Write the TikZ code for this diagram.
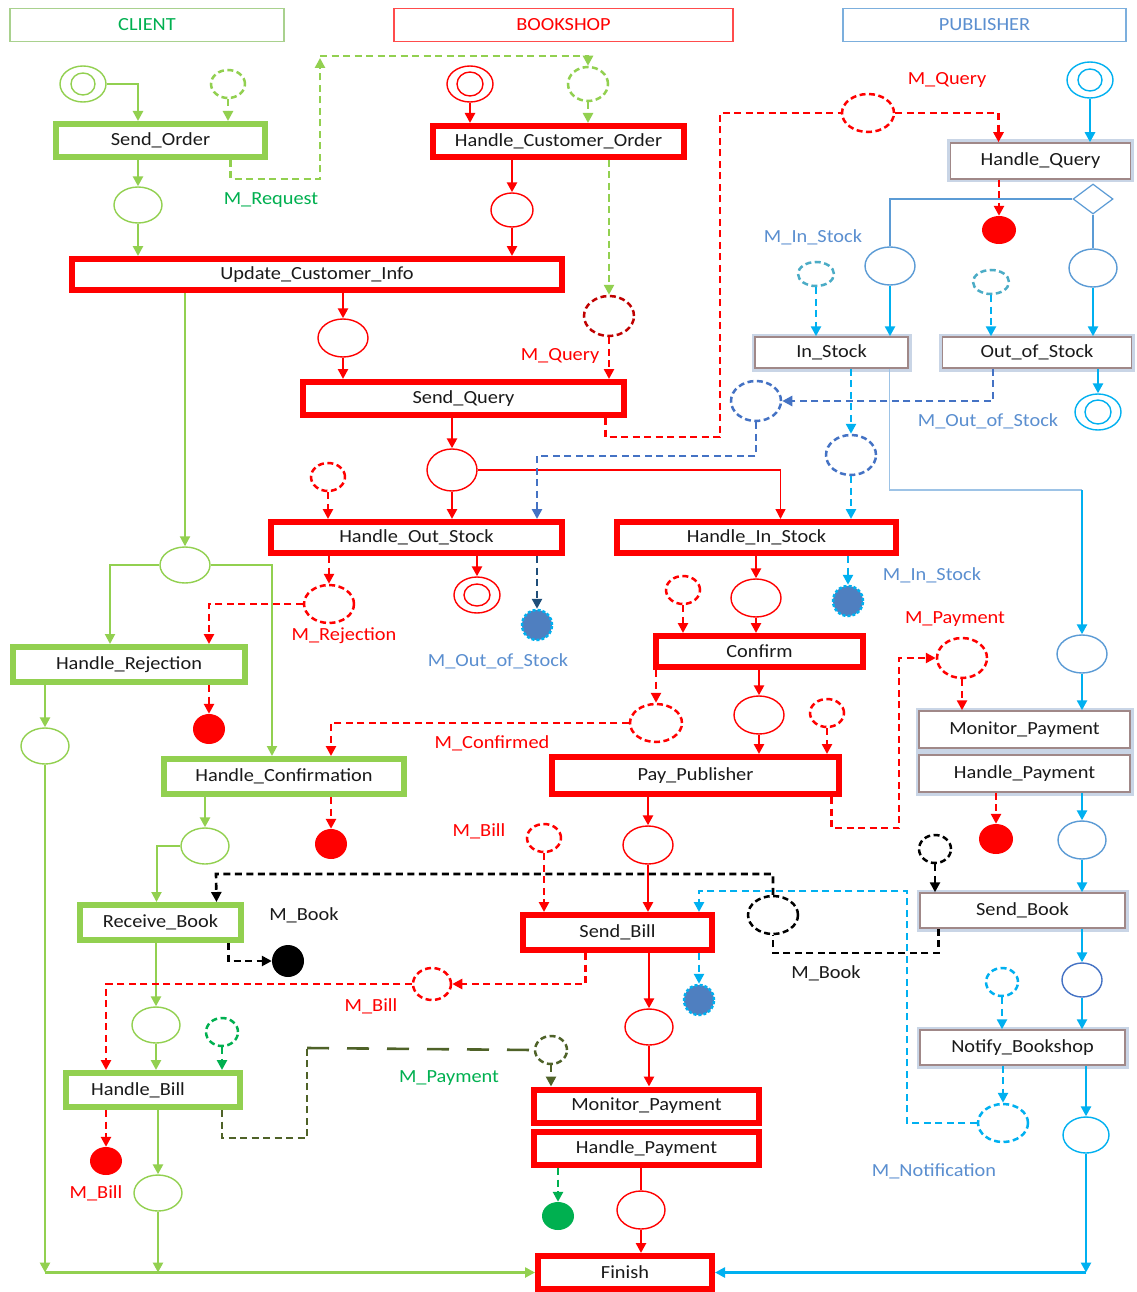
\documentclass[tikz,border=0pt]{standalone}
\usepackage{fontspec}
\setmainfont{Carlito}[FakeStretch=1.1]
\usetikzlibrary{shapes.geometric,arrows.meta,shadows}
\definecolor{cg}{HTML}{92D050}
\definecolor{cgl}{HTML}{A9D18E}
\definecolor{tg}{HTML}{00B050}
\definecolor{rd}{HTML}{FF0000}
\definecolor{drd}{HTML}{C00000}
\definecolor{cy}{HTML}{00B0F0}
\definecolor{bl}{HTML}{4472C4}
\definecolor{blt}{HTML}{5B9BD5}
\definecolor{lb}{HTML}{5B8FD0}
\definecolor{pe}{HTML}{C9D5E6}
\definecolor{pbr}{HTML}{A08888}
\definecolor{tl}{HTML}{4BACC6}
\definecolor{ol}{HTML}{4F6228}
\definecolor{gb}{HTML}{4F7FC0}
\definecolor{dbl}{HTML}{1F4E79}
\definecolor{txt}{HTML}{1A1A1A}
\tikzset{
 lbl/.style={font=\fontsize{18.5}{20}\selectfont, inner sep=0pt},
 box/.style={rectangle, fill=white, inner sep=0pt, text=txt, font=\fontsize{18.5}{20}\selectfont,
   drop shadow={shadow xshift=2pt, shadow yshift=-2pt, fill=black!40, opacity=0.6}},
 rbox/.style={box, draw=rd, line width=6pt},
 gbox/.style={box, draw=cg, line width=6pt},
 pbox/.style={box, draw=pbr, line width=1.5pt, preaction={draw=pe, line width=7pt}},
 sz/.style 2 args={minimum width=#1, minimum height=#2},
 pl/.style={ellipse, inner sep=0pt, line width=1.4pt, fill=white},
 dpl/.style={ellipse, inner sep=0pt, line width=2.5pt, fill=white, dash pattern=on 6pt off 3.5pt},
 fpl/.style={ellipse, inner sep=0pt, draw=none},
 gear/.style={circle, inner sep=0pt, minimum size=30, fill=gb, draw=cy, line width=2.5pt, dash pattern=on 3pt off 2pt},
 ar/.style={-{Triangle[length=10pt,width=10pt]}},
 dsh/.style={dash pattern=on 7pt off 4.5pt},
 sg/.style={draw=cg, line width=2.6pt},
 sr/.style={draw=rd, line width=2.6pt},
 sc/.style={draw=cy, line width=2.6pt},
 hdr/.style={rectangle, line width=1.6pt, inner sep=0pt, font=\fontsize{18.5}{20}\selectfont},
}
\begin{document}
\begin{tikzpicture}[x=1pt,y=-1pt]
\useasboundingbox[fill=white] (0,0) rectangle (1136,1292);
% headers
\node[hdr, draw=cgl, text=tg, sz={274}{33}] (hdc) at (147,25) {CLIENT};
\node[hdr, draw=rd!70, text=rd, sz={339}{33}] (hdb) at (563.5,25) {BOOKSHOP};
\node[hdr, draw=blt!80, text=lb, sz={283}{33}] (hdp) at (984.5,25) {PUBLISHER};
% boxes
\node[gbox, sz={209}{33}] (so) at (160.5,140.5) {Send\_Order};
\node[rbox, sz={251}{31}] (hco) at (558.5,141.5) {Handle\_Customer\_Order};
\node[pbox, sz={180}{36}] (hq) at (1040.5,161) {Handle\_Query};
\node[rbox, sz={490}{31}] (uci) at (317,274.5) {Update\_Customer\_Info};
\node[pbox, sz={153}{31}] (ins) at (831.5,352.5) {In\_Stock};
\node[pbox, sz={189}{31}] (oos) at (1037,352.5) {Out\_of\_Stock};
\node[rbox, sz={321}{33}] (sq) at (463.5,398.5) {Send\_Query};
\node[rbox, sz={291}{31}] (hos) at (416.5,537.5) {Handle\_Out\_Stock};
\node[rbox, sz={279}{31}] (his) at (756.5,537.5) {Handle\_In\_Stock};
\node[gbox, sz={232}{35}] (hr) at (129,664.5) {Handle\_Rejection};
\node[rbox, sz={207}{31}] (cf) at (759.5,651.5) {Confirm};
\node[pbox, sz={211}{37}] (mpp) at (1024.5,729.5) {Monitor\_Payment};
\node[pbox, sz={211}{37}] (hpp) at (1024.5,773.5) {Handle\_Payment};
\node[gbox, sz={240}{35}] (hcf) at (284,776.5) {Handle\_Confirmation};
\node[rbox, sz={287}{37}] (pp) at (695.5,775.5) {Pay\_Publisher};
\node[gbox, sz={161}{35}] (rb) at (160.5,922.5) {Receive\_Book};
\node[rbox, sz={189}{35}] (sb) at (617.5,932.5) {Send\_Bill};
\node[pbox, sz={205}{35}] (sbk) at (1022.5,910.5) {Send\_Book};
\node[gbox, sz={174}{34}] (hb) at (153,1090) {Handle\_Bill\hspace*{30pt}};
\node[pbox, sz={205}{35}] (nb) at (1022.5,1047.5) {Notify\_Bookshop};
\node[rbox, sz={225}{33}] (mpr) at (646.5,1106) {Monitor\_Payment};
\node[rbox, sz={225}{33}] (hpr) at (646.5,1148.5) {Handle\_Payment};
\node[rbox, sz={174}{33}] (fin) at (625,1272.5) {Finish};
% client places
\node[pl, draw=cg, sz={46}{36}] (c0) at (83,84) {};
\node[pl, draw=cg, sz={24}{22}] (c0i) at (83,84) {};
\node[dpl, draw=cg, sz={34}{28}] (c1) at (228,84) {};
\node[pl, draw=cg, sz={48}{36}] (c2) at (138,205) {};
\node[pl, draw=cg, sz={50}{36}] (c3) at (185,565) {};
\node[pl, draw=cg, sz={48}{36}] (c4) at (45,746) {};
\node[pl, draw=cg, sz={48}{36}] (c5) at (205,846) {};
\node[pl, draw=cg, sz={48}{36}] (c6) at (156,1025) {};
\node[dpl, draw=tg, sz={32}{28}] (c7) at (222,1032) {};
\node[pl, draw=cg, sz={48}{36}] (c8) at (158,1193) {};
% bookshop places
\node[pl, draw=rd, sz={46}{36}] (b0) at (470,84) {};
\node[pl, draw=rd, sz={26}{24}] (b0i) at (470,84) {};
\node[dpl, draw=cg, sz={40}{34}] (b1) at (588,84) {};
\node[pl, draw=rd, sz={42}{34}] (b2) at (512,210) {};
\node[dpl, draw=drd, sz={50}{40}] (b3) at (609,316) {};
\node[pl, draw=rd, sz={50}{38}] (b4) at (343,338) {};
\node[dpl, draw=rd, sz={52}{38}] (b5) at (868,113) {};
\node[pl, draw=rd, sz={50}{42}] (b6) at (452,470) {};
\node[dpl, draw=rd, sz={34}{28}] (b7) at (328,477) {};
\node[dpl, draw=rd, sz={50}{38}] (b8) at (329,604) {};
\node[pl, draw=rd, sz={46}{36}] (b9) at (477,595) {};
\node[pl, draw=rd, sz={26}{22}] (b9i) at (477,595) {};
\node[gear] (g1) at (537,625) {};
\node[dpl, draw=rd, sz={34}{28}] (b10) at (683,590) {};
\node[pl, draw=rd, sz={50}{38}] (b11) at (756,598) {};
\node[gear] (g2) at (848,601) {};
\node[dpl, draw=rd, sz={52}{38}] (b12) at (656,723) {};
\node[pl, draw=rd, sz={50}{38}] (b13) at (759,715) {};
\node[dpl, draw=rd, sz={34}{28}] (b14) at (827,713) {};
\node[fpl, fill=rd, sz={32}{30}] (f1) at (209,729) {};
\node[fpl, fill=rd, sz={32}{30}] (f2) at (331,844) {};
\node[dpl, draw=rd, sz={34}{28}] (b15) at (544,838) {};
\node[pl, draw=rd, sz={50}{38}] (b16) at (648,845) {};
\node[dpl, draw=black, sz={50}{38}] (b17) at (773,915) {};
\node[fpl, fill=black, sz={32}{32}] (f3) at (288,961) {};
\node[dpl, draw=rd, sz={38}{32}] (b18) at (432,984) {};
\node[gear] (g3) at (699,1000) {};
\node[pl, draw=rd, sz={48}{36}] (b19) at (649,1027) {};
\node[fpl, fill=tg, sz={32}{28}] (f4) at (558,1216) {};
\node[pl, draw=rd, sz={48}{38}] (b20) at (641,1210) {};
\node[fpl, fill=rd, sz={32}{28}] (f5) at (106,1161) {};
\node[dpl, draw=ol, sz={32}{28}] (b21) at (551,1050) {};
% publisher places
\node[pl, draw=cy, sz={46}{36}] (p0) at (1090,80) {};
\node[pl, draw=cy, sz={24}{22}] (p0i) at (1090,80) {};
\node[fpl, fill=rd, sz={34}{28}] (f6) at (999,230) {};
\node[diamond, draw=blt, line width=1.2pt, inner sep=0pt, aspect=1.33, sz={40}{30}, fill=white] (dm) at (1093,199) {};
\node[pl, draw=blt, sz={50}{38}] (p1) at (890,266) {};
\node[pl, draw=blt, sz={48}{38}] (p2) at (1093,268) {};
\node[dpl, draw=tl, sz={36}{24}] (p3) at (816,274) {};
\node[dpl, draw=tl, sz={36}{24}] (p4) at (991,282) {};
\node[pl, draw=cy, sz={46}{36}] (p5) at (1098,412) {};
\node[pl, draw=cy, sz={26}{24}] (p5i) at (1098,412) {};
\node[dpl, draw=bl, sz={50}{40}] (p6) at (756,401) {};
\node[dpl, draw=bl, sz={50}{40}] (p7) at (851,455) {};
\node[pl, draw=blt, sz={50}{38}] (p8) at (1082,654) {};
\node[dpl, draw=rd, sz={50}{40}] (p9) at (962,658) {};
\node[fpl, fill=rd, sz={34}{30}] (f7) at (996,839) {};
\node[dpl, draw=black, sz={32}{28}] (p10) at (935,849) {};
\node[pl, draw=blt, sz={48}{38}] (p11) at (1082,840) {};
\node[pl, draw=bl, sz={40}{34}] (p12) at (1082,980) {};
\node[dpl, draw=cy, sz={32}{28}] (p13) at (1002,982) {};
\node[dpl, draw=cy, sz={50}{38}] (p14) at (1003,1123) {};
\node[pl, draw=cy, sz={46}{36}] (p15) at (1086,1135) {};
% labels
\node[lbl, text=tg] (l1) at (271,200) {M\_Request};
\node[lbl, text=rd] (l2) at (947,80) {M\_Query};
\node[lbl, text=lb] (l3) at (813,237) {M\_In\_Stock};
\node[lbl, text=lb] (l4) at (988,421) {M\_Out\_of\_Stock};
\node[lbl, text=rd] (l5) at (560,356) {M\_Query};
\node[lbl, text=rd] (l6) at (344,636) {M\_Rejection};
\node[lbl, text=lb] (l7) at (498,661) {M\_Out\_of\_Stock};
\node[lbl, text=lb] (l8) at (932,575) {M\_In\_Stock};
\node[lbl, text=rd] (l9) at (955,619) {M\_Payment};
\node[lbl, text=rd] (l10) at (492,743) {M\_Confirmed};
\node[lbl, text=rd] (l11) at (479,831) {M\_Bill};
\node[lbl, text=txt] (l12) at (304,915) {M\_Book};
\node[lbl, text=txt] (l13) at (826,973) {M\_Book};
\node[lbl, text=rd] (l14) at (371,1006) {M\_Bill};
\node[lbl, text=tg] (l15) at (449,1078) {M\_Payment};
\node[lbl, text=rd] (l16) at (96,1193) {M\_Bill};
\node[lbl, text=lb] (l17) at (934,1171) {M\_Notification};
% ---------- client arcs
\draw[sg,ar] (c0.east) -| (so.north -| c2);
\draw[sg,dsh,ar] (c1.south) -- (so.north -| c1);
\draw[sg,ar] (so.south -| c2) -- (c2.north);
\draw[sg,ar] (c2.south) -- (uci.north -| c2);
\draw[sg,dsh,ar] ([xshift=70pt]so.south) |- (320,179) -- (320,58);
\draw[sg,dsh,ar] (320,56) -| (b1.north);
\draw[sg,line width=2pt,ar] (uci.south -| c3) -- (c3.north);
\draw[sg,line width=2pt,ar] (c3.west) -| ([xshift=-19pt]hr.north);
\draw[sg,line width=2pt,ar] (c3.east) -| ([xshift=-12pt]hcf.north);
\draw[sg,ar] (hr.south -| c4) -- (c4.north);
\coordinate (cl) at (c4 |- fin.west);
\draw[sg,ar] (c4.south) -- (cl);
\draw[sg,ar] (c8.south) -- (c8 |- fin.west);
\draw[sg,ar] (cl) -- (fin.west);
\draw[sg,ar] (hcf.south -| c5) -- (c5.north);
\draw[sg,line width=2pt,ar] (c5.west) -| ([xshift=-4pt]rb.north);
\draw[sg,ar] (rb.south -| c6) -- (c6.north);
\draw[sg,ar] (c6.south) -- (hb.north -| c6);
\draw[sg,ar] (hb.south -| c8) -- (c8.north);
\draw[draw=tg,line width=2.6pt,dsh,ar] (c7.south) -- (hb.north -| c7);
% ---------- bookshop arcs
\draw[sg,dsh,ar] (b1.south) -- (hco.north -| b1);
\draw[sr,ar] (b0.south) -- (hco.north -| b0);
\draw[sr,ar] (hco.south -| b2) -- (b2.north);
\draw[sr,ar] (b2.south) -- (uci.north -| b2);
\draw[sg,dsh,ar] (hco.south -| b3) -- (b3.north);
\draw[sr,dsh,ar] (b3.south) -- (sq.north -| b3);
\draw[sr,ar] (uci.south -| b4) -- (b4.north);
\draw[sr,ar] (b4.south) -- (sq.north -| b4);
\draw[sr,dsh] ([xshift=142pt]sq.south) |- (720,437) |- (b5.west);
\draw[sr,dsh,ar] (b5.east) -| ([xshift=-42pt]hq.north);
\draw[sr,ar] (sq.south -| b6) -- (b6.north);
\draw[sr,ar] (b6.south) -- (hos.north -| b6);
\draw[draw=rd,line width=1.4pt,ar] (b6.east) -| ([xshift=24pt]his.north);
\draw[sr,dsh,ar] (b7.south) -- (hos.north -| b7);
\draw[draw=bl,line width=2.6pt,dsh,ar] (p6.south) |- (537,456) -- (hos.north -| g1);
\draw[sr,dsh,ar] (hos.south -| b8) -- (b8.north);
\draw[sr,dsh,ar] (b8.west) -| (hr.north -| f1);
\draw[sr,ar] (hos.south -| b9) -- (b9.north);
\draw[draw=dbl,line width=2.6pt,dsh,ar] (hos.south -| g1) -- (g1.north);
\draw[sr,dsh,ar] (hr.south -| f1) -- (f1.north);
\draw[sr,dsh,ar] (hcf.south -| f2) -- (f2.north);
\draw[sr,dsh,ar] (b12.west) -| (hcf.north -| f2);
\draw[sr,dsh,ar] (cf.south -| b12) -- (b12.north);
\draw[sr,dsh,ar] (b10.south) -- (cf.north -| b10);
\draw[sr,ar] (b11.south) -- (cf.north -| b11);
\draw[sr,ar] (his.south -| b11) -- (b11.north);
\draw[draw=cy,line width=2.6pt,dsh,ar] (his.south -| g2) -- (g2.north);
\draw[draw=cy,line width=2.6pt,dsh,ar] (p7.south) -- (his.north -| p7);
\draw[draw=cy,line width=2.6pt,dsh,ar] (ins.south -| p7) -- (p7.north);
\draw[draw=bl,line width=2.6pt,dsh,ar] ([xshift=-44pt]oos.south) |- (p6.east);
\draw[sr,ar] (cf.south -| b13) -- (b13.north);
\draw[sr,ar] (b13.south) -- (pp.north -| b13);
\draw[sr,dsh,ar] (b14.south) -- (pp.north -| b14);
\draw[sr,dsh,ar] ([xshift=136pt]pp.south) |- (899,828) |- (p9.west);
\draw[sr,dsh,ar] (p9.south) -- (mpp.north -| p9);
\draw[sr,ar] (pp.south -| b16) -- (b16.north);
\draw[sr,ar] (b16.south) -- (sb.north -| b16);
\draw[sr,dsh,ar] (b15.south) -- (sb.north -| b15);
\draw[draw=black,line width=2.6pt,dsh] ([xshift=-84pt]sbk.south) |- (773,953) -- (b17.south);
\draw[draw=black,line width=2.6pt,dsh,ar] (b17.north) |- (216,874) -- ([xshift=56pt]rb.north);
\draw[draw=black,line width=2.6pt,dsh,ar] (p10.south) -- (sbk.north -| p10);
\draw[draw=black,line width=2.6pt,dsh,ar] ([xshift=68pt]rb.south) |- (f3.west);
\draw[sr,dsh,ar] ([xshift=-32pt]sb.south) |- (b18.east);
\draw[sr,dsh,ar] (b18.west) -| (hb.north -| f5);
\draw[sr,dsh,ar] (hb.south -| f5) -- (f5.north);
\draw[draw=ol,line width=2.6pt,dsh] ([xshift=69pt]hb.south) |- (307,1138) -- (307,1048);
\draw[draw=ol,line width=2.6pt,dash pattern=on 22pt off 18pt] (307,1048) -- (b21.west);
\draw[draw=ol,line width=2.6pt,dsh,ar] (b21.south) -- (mpr.north -| b21);
\draw[sr,ar] (sb.south -| b19) -- (b19.north);
\draw[sr,ar] (b19.south) -- (mpr.north -| b19);
\draw[draw=cy,line width=2.6pt,dsh,ar] (sb.south -| g3) -- (g3.north);
\draw[draw=cy,line width=2.6pt,dsh,ar] (p14.west) -| (907,891) -| (g3 |- sb.north);
\draw[draw=cy,line width=2.6pt,dsh,ar] (nb.south -| p14) -- (p14.north);
\draw[draw=cy,line width=2.6pt,dsh,ar] (p13.south) -- (nb.north -| p13);
\draw[draw=tg,line width=2.6pt,dsh,ar] (hpr.south -| f4) -- (f4.north);
\draw[sr] (hpr.south -| b20) -- (b20.north);
\draw[sr,ar] (b20.south) -- (fin.north -| b20);
% ---------- publisher arcs
\draw[sc,ar] (p0.south) -- (hq.north -| p0);
\draw[sr,dsh,ar] (hq.south -| f6) -- (f6.north);
\draw[draw=blt,line width=1.5pt] (dm.west) -| (p1.north);
\draw[draw=blt,line width=1.5pt] (dm.south) -- (p2.north);
\draw[sc,ar] (p1.south) -- (ins.north -| p1);
\draw[sc,ar] (p2.south) -- (oos.north -| p2);
\draw[draw=cy,line width=2.6pt,dsh,ar] (p3.south) -- (ins.north -| p3);
\draw[draw=cy,line width=2.6pt,dsh,ar] (p4.south) -- (oos.north -| p4);
\draw[sc,ar] (oos.south -| p5) -- (p5.north);
\coordinate (jn) at (1082,490);
\draw[draw=blt!60,line width=1.5pt] ([xshift=58pt]ins.south) |- (jn);
\draw[sc,ar] (jn) -- (p8.north);
\draw[sc,ar] (p8.south) -- (mpp.north -| p8);
\draw[sc,ar] (hpp.south -| p11) -- (p11.north);
\draw[sr,dsh,ar] (hpp.south -| f7) -- (f7.north);
\draw[sc,ar] (p11.south) -- (sbk.north -| p11);
\draw[sc,ar] (sbk.south -| p12) -- (p12.north);
\draw[sc,ar] (p12.south) -- (nb.north -| p12);
\draw[sc,ar] (nb.south -| p15) -- (p15.north);
\coordinate (cr) at (p15 |- fin.east);
\draw[sc,ar] (p15.south) -- (cr);
\draw[sc,ar] (cr) -- (fin.east);
\end{tikzpicture}
\end{document}
